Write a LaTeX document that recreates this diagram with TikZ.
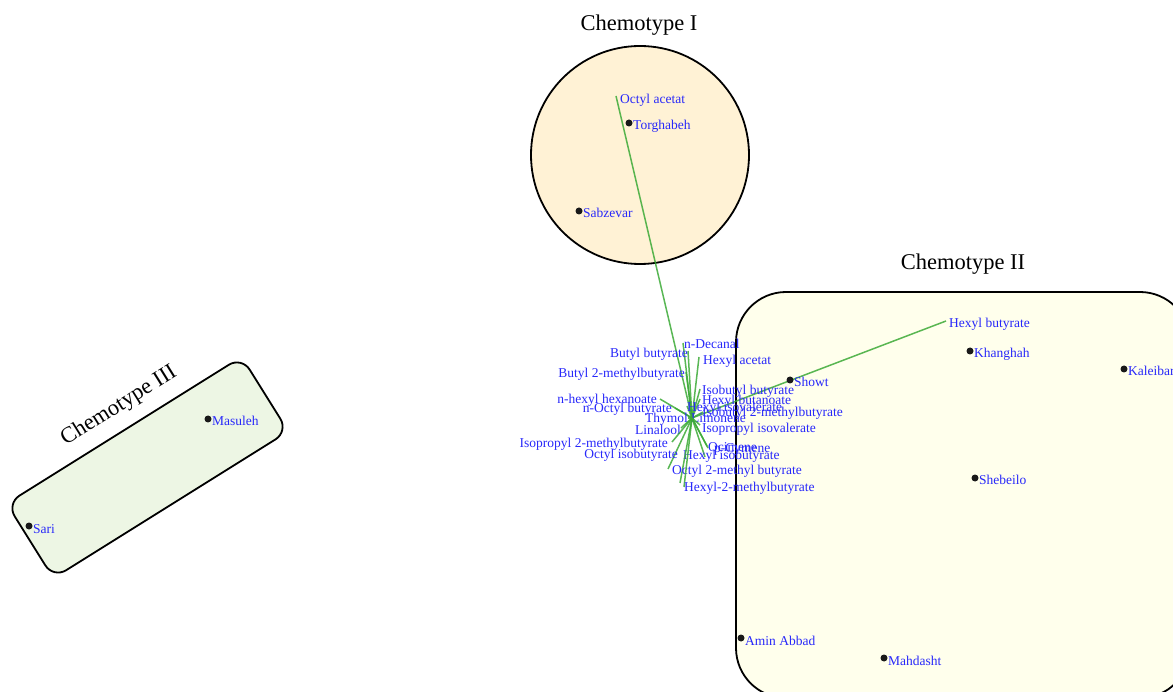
\documentclass[tikz,border=0pt]{standalone}
\usepackage{fontspec}
\setmainfont{Liberation Serif}
\definecolor{circfill}{RGB}{255,242,213}
\definecolor{boxfill}{RGB}{255,255,236}
\definecolor{tiltfill}{RGB}{237,246,228}
\definecolor{loadgreen}{RGB}{60,170,55}
\definecolor{labelblue}{RGB}{40,40,250}
\tikzset{
  group/.style={draw=black, line width=1.8pt},
  title/.style={font=\fontsize{22.5}{24}\selectfont, text=black, inner sep=0pt},
  loading/.style={draw=loadgreen, line width=1.5pt, opacity=0.85},
  varlabel/.style={font=\fontsize{13.5}{14}\selectfont, text=labelblue, inner sep=0pt},
  site/.style={circle, fill=black!90, inner sep=0pt, minimum size=7pt},
}
\begin{document}
\begin{tikzpicture}[x=1pt, y=-1pt]
  \useasboundingbox (0,0) rectangle (1173,692);
  \clip (0,0) rectangle (1173,692);
  % groups
  \draw[group, fill=circfill] (640,155) circle (109pt);
  \node[title] (t1) at (639,25) {Chemotype I};
  \draw[group, fill=boxfill, rounded corners=50pt] (736,292) rectangle (1190,698);
  \node[title] (t2) at (963,264) {Chemotype II};
  \node[group, fill=tiltfill, rounded corners=15pt, minimum width=277pt,
        minimum height=88pt, rotate=32] (g3) at (147.5,467.5) {};
  \node[title, rotate=32] (t3) at (119,406) {Chemotype III};
  % loadings
  \coordinate (O) at (692,418);
  \foreach \ex/\ey/\lx/\ly/\an/\txt [count=\i] in {
      616/96/620/104/base west/Octyl acetat,
      946/321/949/328/base west/Hexyl butyrate,
      683/343/684/349/base west/n-Decanal,
      688/351/688/358/base east/Butyl butyrate,
      699/357/703/365/base west/Hexyl acetat,
      686/372/685/378/base east/Butyl 2-methylbutyrate,
      700/389/702/395/base west/Isobutyl butyrate,
      700/399/702/405/base west/Hexyl butanoate,
      660/399/657/404/base east/n-hexyl hexanoate,
      675/408/672/413/base east/n-Octyl butyrate,
      687/406/687/412/base west/Hexyl isovalerate,
      703/412/702/417/base west/Isobutyl 2-methylbutyrate,
      688/418/688/423/base east/Thymol,
      691/418/691/423/base west/Limonene,
      700/425/702/432/base west/Isopropyl isovalerate,
      681/428/681/435/base east/Linalool,
      672/442/668/447/base east/Isopropyl 2-methylbutyrate,
      668/469/678/459/base east/Octyl isobutyrate,
      707/446/708/451/base west/Ocimene,
      708/448/714/453/base west/p-Cymene,
      705/457/683/460/base west/Hexyl isobutyrate,
      680/483/672/475/base west/Octyl 2-methyl butyrate,
      684/487/684/491/base west/Hexyl-2-methylbutyrate}{
    \coordinate (v\i) at (\ex,\ey);
    \draw[loading] (O) -- (v\i);
    \node[varlabel, anchor=\an] (l\i) at (\lx,\ly) {\txt};
  }
  % sites
  \foreach \x/\y/\name in {629/123/Torghabeh, 579/211/Sabzevar, 790/380/Showt,
      970/351/Khanghah, 1124/369/Kaleibar, 975/478/Shebeilo,
      741/638/Amin Abbad, 884/658/Mahdasht, 208/419/Masuleh, 29/526/Sari}{
    \node[site] (s-\name) at (\x,\y) {};
    \node[varlabel, anchor=base west] at ([xshift=4pt, yshift=-7pt]s-\name.center) {\name};
  }
\end{tikzpicture}
\end{document}
